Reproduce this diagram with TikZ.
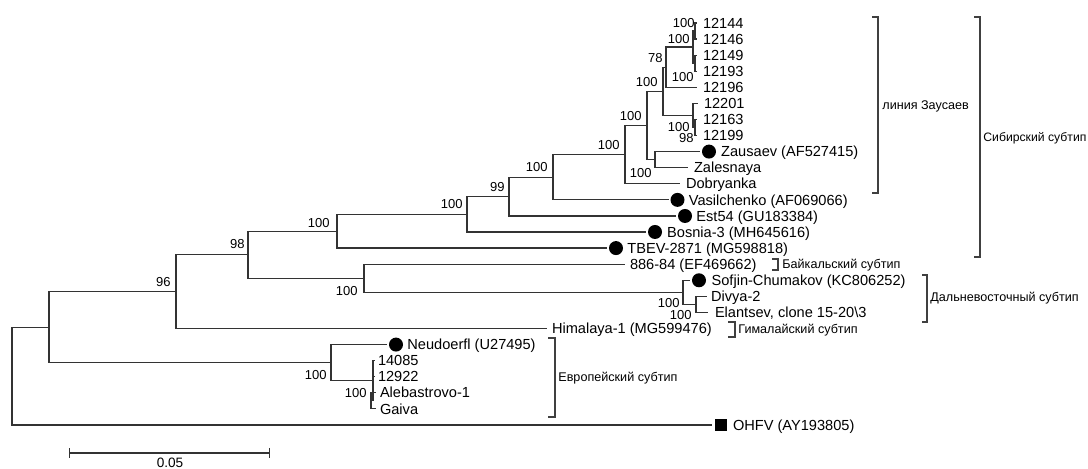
\documentclass[tikz,border=0pt]{standalone}
\usepackage{fontspec}
\setmainfont{Liberation Sans}
\usetikzlibrary{positioning,arrows.meta}
\tikzset{
  br/.style={line width=0.6pt, black!80},
  bkt/.style={line width=0.8pt, black!75},
  tip/.style={anchor=west, inner xsep=3pt, inner ysep=0pt, outer sep=0pt, text height=5.2pt, text depth=0pt, font=\fontsize{7.3}{8}\selectfont},
  boot/.style={anchor=east, inner sep=0pt, text height=4.65pt, text depth=0pt, font=\fontsize{6.5}{7}\selectfont},
  grp/.style={anchor=west, inner sep=0pt, text height=4.5pt, text depth=0pt, font=\fontsize{6.3}{7}\selectfont},
  refdot/.style={circle, fill=black, inner sep=0pt, minimum size=7pt, outer sep=1pt},
  refsq/.style={rectangle, fill=black, inner sep=0pt, minimum size=6pt, outer sep=1.5pt},
}

\begin{document}
\begin{tikzpicture}[x=0.5pt, y=-0.5pt]
    \useasboundingbox (0,0) rectangle (1088,469);

    % inner nodes of the tree
    \coordinate (n1) at (695,31.05);
    \coordinate (n2) at (695,63.2);
    \coordinate (U) at (693,47.1);
    \coordinate (V) at (666,67.2);
    \coordinate (T) at (695,127.55);
    \coordinate (S) at (693,115.5);
    \coordinate (A) at (663,91.35);
    \coordinate (C) at (655,159.65);
    \coordinate (B) at (647,125.5);
    \coordinate (D) at (625,154.65);
    \coordinate (E) at (553,177.3);
    \coordinate (F) at (509,196.65);
    \coordinate (G) at (467,214.3);
    \coordinate (H) at (337,231.2);
    \coordinate (R) at (696,304.4);
    \coordinate (Q) at (683,292.35);
    \coordinate (J) at (364,278.3);
    \coordinate (I) at (248,254.75);
    \coordinate (K) at (176,291.6);
    \coordinate (P) at (371,400.85);
    \coordinate (N) at (373,380.8);
    \coordinate (M) at (331,362.7);
    \coordinate (L) at (49,327.15);
    \coordinate (root) at (12,376);

    % tips
    \node[tip] (t12144) at (697,23) {12144};
    \node[tip] (t12146) at (697,39.1) {12146};
    \node[tip] (t12149) at (697,55.2) {12149};
    \node[tip] (t12193) at (697,71.2) {12193};
    \node[tip] (t12196) at (697,87.3) {12196};
    \node[tip] (t12201) at (698,103.4) {12201};
    \node[tip] (t12163) at (697,119.5) {12163};
    \node[tip] (t12199) at (697,135.6) {12199};
    \node[refdot] (dZau) at (709,151.6) {};
    \node[tip, inner xsep=1.6pt, right=0pt of dZau] (tZau) {Zausaev (AF527415)};
    \node[tip] (tZal) at (688,167.7) {Zalesnaya};
    \node[tip] (tDob) at (680,183.8) {Dobryanka};
    \node[refdot] (dVas) at (677.5,199.9) {};
    \node[tip, inner xsep=1.2pt, right=0pt of dVas] (tVas) {Vasilchenko (AF069066)};
    \node[refdot] (dEst) at (685,216) {};
    \node[tip, inner xsep=1.2pt, right=0pt of dEst] (tEst) {Est54 (GU183384)};
    \node[refdot] (dBos) at (655,232) {};
    \node[tip, inner xsep=1.6pt, right=0pt of dBos] (tBos) {Bosnia-3 (MH645616)};
    \node[refdot] (dTBE) at (616,248.1) {};
    \node[tip, inner xsep=1.2pt, right=0pt of dTBE] (tTBE) {TBEV-2871 (MG598818)};
    \node[tip, inner xsep=2.5pt] (t886) at (625,264.2) {886-84 (EF469662)};
    \node[refdot] (dSof) at (699,280.3) {};
    \node[tip, inner xsep=1.8pt, right=0pt of dSof] (tSof) {Sofjin-Chumakov (KC806252)};
    \node[tip, inner xsep=2pt] (tDiv) at (707,296.4) {Divya-2};
    \node[tip, inner xsep=3.5pt] (tEla) at (708,312.4) {Elantsev, clone 15-20\textbackslash 3};
    \node[tip, inner xsep=2.5pt] (tHim) at (547,328.5) {Himalaya-1 (MG599476)};
    \node[refdot] (dNeu) at (396,344.6) {};
    \node[tip, inner xsep=1.2pt, right=0pt of dNeu] (tNeu) {Neudoerfl (U27495)};
    \node[tip, inner xsep=1.5pt] (t14085) at (375,360.7) {14085};
    \node[tip, inner xsep=1.5pt] (t12922) at (375,376.8) {12922};
    \node[tip, inner xsep=2pt] (tAle) at (376,392.8) {Alebastrovo-1};
    \node[tip, inner xsep=2pt] (tGai) at (376,408.9) {Gaiva};
    \node[refsq] (sOHF) at (721,425) {};
    \node[tip, inner xsep=1.5pt, right=0pt of sOHF] (tOHF) {OHFV (AY193805)};

    % branches
    \draw[br] (n1) |- (t12144.west);
    \draw[br] (n1) |- (t12146.west);
    \draw[br] (n2) |- (t12149.west);
    \draw[br] (n2) |- (t12193.west);
    \draw[br] (U) |- (n1);
    \draw[br] (U) |- (n2);
    \draw[br] (V) |- (U);
    \draw[br] (V) |- (t12196.west);
    \draw[br] (T) |- (t12163.west);
    \draw[br] (T) |- (t12199.west);
    \draw[br] (S) |- (t12201.west);
    \draw[br] (S) |- (T);
    \draw[br] (A) |- (V);
    \draw[br] (A) |- (S);
    \draw[br] (C) |- (dZau.west);
    \draw[br] (C) |- (tZal.west);
    \draw[br] (B) |- (A);
    \draw[br] (B) |- (C);
    \draw[br] (D) |- (B);
    \draw[br] (D) |- (tDob.west);
    \draw[br] (E) |- (D);
    \draw[br] (E) |- (dVas.west);
    \draw[br] (F) |- (E);
    \draw[br] (F) |- (dEst.west);
    \draw[br] (G) |- (F);
    \draw[br] (G) |- (dBos.west);
    \draw[br] (H) |- (G);
    \draw[br] (H) |- (dTBE.west);
    \draw[br] (R) |- (tDiv.west);
    \draw[br] (R) |- (tEla.west);
    \draw[br] (Q) |- (dSof.west);
    \draw[br] (Q) |- (R);
    \draw[br] (J) |- (t886.west);
    \draw[br] (J) |- (Q);
    \draw[br] (I) |- (H);
    \draw[br] (I) |- (J);
    \draw[br] (K) |- (I);
    \draw[br] (K) |- (tHim.west);
    \draw[br] (P) |- (tAle.west);
    \draw[br] (P) |- (tGai.west);
    \draw[br] (N) |- (t14085.west);
    \draw[br] (N) |- (t12922.west);
    \draw[br] (N) |- (P);
    \draw[br] (M) |- (dNeu.west);
    \draw[br] (M) |- (N);
    \draw[br] (L) |- (K);
    \draw[br] (L) |- (M);
    \draw[br] (root) |- (L);
    \draw[br] (root) |- (sOHF.west);

    % bootstrap values
    \node[boot] (b1) at (695,23) {100};
    \node[boot] (b2) at (690,39) {100};
    \node[boot] (b3) at (663,58) {78};
    \node[boot] (b4) at (694,77) {100};
    \node[boot] (b5) at (658,82) {100};
    \node[boot] (b6) at (642,116) {100};
    \node[boot] (b7) at (690,127) {100};
    \node[boot] (b8) at (694,138) {98};
    \node[boot] (b9) at (620,145) {100};
    \node[boot] (b10) at (548,167) {100};
    \node[boot] (b11) at (652,173) {100};
    \node[boot] (b12) at (505,187) {99};
    \node[boot] (b13) at (463,204) {100};
    \node[boot] (b14) at (330,223) {100};
    \node[boot] (b15) at (245,244) {98};
    \node[boot] (b16) at (171,282) {96};
    \node[boot] (b17) at (358,291) {100};
    \node[boot] (b18) at (680,303) {100};
    \node[boot] (b19) at (692,315) {100};
    \node[boot] (b20) at (327,375) {100};
    \node[boot] (b21) at (367,393) {100};

    % subtype brackets
    \draw[bkt] (872,17) -- (878,17) -- (878,193) -- (872,193);
    \node[grp] (gZau) at (882,105) {линия Заусаев};
    \draw[bkt] (974,17) -- (980,17) -- (980,257) -- (974,257);
    \node[grp, font=\fontsize{6.1}{7}\selectfont] (gSib) at (983,137) {Сибирский субтип};
    \draw[bkt] (772,259) -- (778,259) -- (778,270) -- (772,270);
    \node[grp] (gBai) at (782,264) {Байкальский субтип};
    \draw[bkt] (922,275) -- (927,275) -- (927,322) -- (922,322);
    \node[grp] (gFar) at (930,297) {Дальневосточный субтип};
    \draw[bkt] (728,322) -- (735,322) -- (735,337) -- (728,337);
    \node[grp] (gHim) at (738,329) {Гималайский субтип};
    \draw[bkt] (548,338) -- (555,338) -- (555,417) -- (548,417);
    \node[grp] (gEur) at (558,377) {Европейский субтип};

    % scale bar
    \coordinate (sb1) at (69,453);
    \coordinate (sb2) at (270,453);
    \draw[br, {Bar[width=5pt]}-{Bar[width=5pt]}] (sb1) -- (sb2);
    \node[boot, anchor=center, font=\fontsize{6.8}{7}\selectfont] (sbl) at (170,463) {0.05};
\end{tikzpicture}
\end{document}
